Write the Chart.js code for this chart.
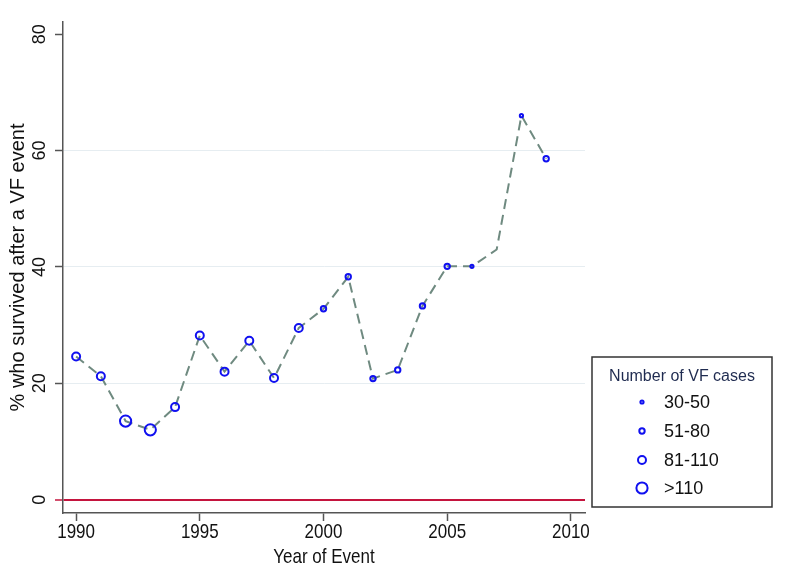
<!DOCTYPE html>
<html>
<head>
<meta charset="utf-8">
<script src="https://cdn.jsdelivr.net/npm/chart.js@4/dist/chart.umd.min.js"></script>
<style>
  html, body { margin: 0; padding: 0; background: #fff; }
  #wrap { width: 800px; height: 583px; }
</style>
</head>
<body>
<div id="wrap"><canvas id="vfChart" width="800" height="583"></canvas></div>
<script>
// Survival after VF event, by year

var years = [1990, 1991, 1992, 1993, 1994, 1995, 1996, 1997, 1998, 1999,
             2000, 2001, 2002, 2003, 2004, 2005, 2006, 2007, 2008, 2009];
var survivedPct = [24.6, 21.2, 13.5, 12.0, 15.9, 28.2, 22.0, 27.3, 20.9, 29.5,
                   32.8, 38.3, 20.8, 22.3, 33.3, 40.1, 40.1, 43.0, 66.0, 58.6];
// index into caseGroups; null = no marker drawn
var caseGroupIdx = [2, 2, 3, 3, 2, 2, 2, 2, 2, 2,
                    1, 1, 1, 1, 1, 1, 0, null, 0, 1];
var caseGroups = ['30-50', '51-80', '81-110', '>110'];
var xTicks = [1990, 1995, 2000, 2005, 2010];
var yTicks = [0, 20, 40, 60, 80];
var xTitle = 'Year of Event';
var yTitle = '% who survived after a VF event';
var legendTitle = 'Number of VF cases';

var markerRadius = [1.6, 2.7, 4, 5.6];
var markerColor = '#1010f0';
var fontFamily = '"Liberation Sans", Arial, Helvetica, sans-serif';

// helper: text a bit taller than wide, like the original export
function stretchedText(ctx, text, x, y, sy) {
    ctx.save();
    ctx.translate(x, y);
    ctx.scale(1, sy);
    ctx.fillText(text, 0, 0);
    ctx.restore();
}

// axis labels drawn by hand (rotated y ticks, taller x text)
var axisText = {
    id: 'axisText',
    afterDraw: function(chart) {
        var ctx = chart.ctx;
        var xScale = chart.scales.x;
        var yScale = chart.scales.y;
        ctx.save();
        ctx.fillStyle = '#111';
        ctx.textAlign = 'center';
        ctx.textBaseline = 'middle';

        ctx.font = '18px ' + fontFamily;
        yTicks.forEach(function(v) {
            var py = yScale.getPixelForValue(v);
            ctx.save();
            ctx.translate(40, py);
            ctx.rotate(-Math.PI / 2);
            ctx.fillText(String(v), 0, 0);
            ctx.restore();
        });

        ctx.font = '17px ' + fontFamily;
        xTicks.forEach(function(v) {
            stretchedText(ctx, String(v), xScale.getPixelForValue(v), 533, 1.15);
        });
        var midX = (chart.chartArea.left + chart.chartArea.right) / 2;
        stretchedText(ctx, xTitle, midX, 558, 1.15);
        ctx.restore();
    }
};

// boxed legend for marker sizes
var sizeLegend = {
    id: 'sizeLegend',
    afterDraw: function(chart) {
        var ctx = chart.ctx;
        ctx.save();
        ctx.strokeStyle = '#333';
        ctx.lineWidth = 1.5;
        ctx.strokeRect(592, 357, 180, 150);

        ctx.fillStyle = '#1f2b50';
        ctx.font = '16px ' + fontFamily;
        ctx.textAlign = 'center';
        ctx.textBaseline = 'middle';
        ctx.fillText(legendTitle, 682, 377);

        ctx.font = '18px ' + fontFamily;
        ctx.textAlign = 'left';
        var rowY = [402, 431, 460, 488];
        caseGroups.forEach(function(label, i) {
            ctx.beginPath();
            ctx.arc(642, rowY[i], markerRadius[i], 0, Math.PI * 2);
            ctx.strokeStyle = markerColor;
            ctx.lineWidth = 2;
            ctx.stroke();
            ctx.fillStyle = '#111';
            ctx.fillText(label, 664, rowY[i] + 1);
        });
        ctx.restore();
    }
};

var points = years.map(function(yr, i) {
    return { x: yr, y: survivedPct[i] };
});

new Chart(document.getElementById('vfChart'), {
    type: 'line',
    data: {
        datasets: [{
            data: points,
            borderColor: '#6f8a80',
            borderWidth: 2,
            borderDash: [10, 6],
            tension: 0,
            fill: false,
            pointBackgroundColor: 'rgba(255,255,255,0)',
            pointBorderColor: markerColor,
            pointBorderWidth: 2,
            pointRadius: function(c) {
                var g = caseGroupIdx[c.dataIndex];
                return g === null ? 0 : markerRadius[g];
            },
            pointHoverRadius: 0
        }]
    },
    options: {
        responsive: false,
        animation: false,
        layout: { padding: { left: 0, top: 22, right: 215, bottom: 0 } },
        plugins: {
            legend: { display: false },
            tooltip: { enabled: false }
        },
        scales: {
            x: {
                type: 'linear',
                min: 1989.47,
                max: 2010.57,
                afterBuildTicks: function(scale) {
                    scale.ticks = xTicks.map(function(v) { return { value: v }; });
                },
                afterFit: function(scale) { scale.height = 70; },
                grid: {
                    drawOnChartArea: false,
                    drawTicks: true,
                    tickLength: 8,
                    tickColor: '#555',
                    tickWidth: 1.5
                },
                border: { display: true, color: '#555', width: 1.5 },
                ticks: { display: false }
            },
            y: {
                type: 'linear',
                min: -2.3,
                max: 82.1,
                afterBuildTicks: function(scale) {
                    scale.ticks = yTicks.map(function(v) { return { value: v }; });
                },
                afterFit: function(scale) { scale.width = 63; },
                grid: {
                    drawTicks: true,
                    tickLength: 8,
                    color: function(c) {
                        if (!c.tick) return 'rgba(0,0,0,0)';
                        if (c.tick.value === 0) return '#c4143e';
                        if (c.tick.value === 80) return 'rgba(0,0,0,0)';
                        return '#e6edf1';
                    },
                    lineWidth: function(c) {
                        return c.tick && c.tick.value === 0 ? 2 : 1;
                    },
                    tickColor: function(c) {
                        return c.tick && c.tick.value === 0 ? '#c4143e' : '#555';
                    },
                    tickWidth: 1.5
                },
                border: { display: true, color: '#555', width: 1.5 },
                ticks: { display: false },
                title: {
                    display: true,
                    text: yTitle,
                    color: '#111',
                    font: { family: fontFamily, size: 20 },
                    padding: { top: 6, bottom: 0 }
                }
            }
        }
    },
    plugins: [axisText, sizeLegend]
});
</script>
</body>
</html>
